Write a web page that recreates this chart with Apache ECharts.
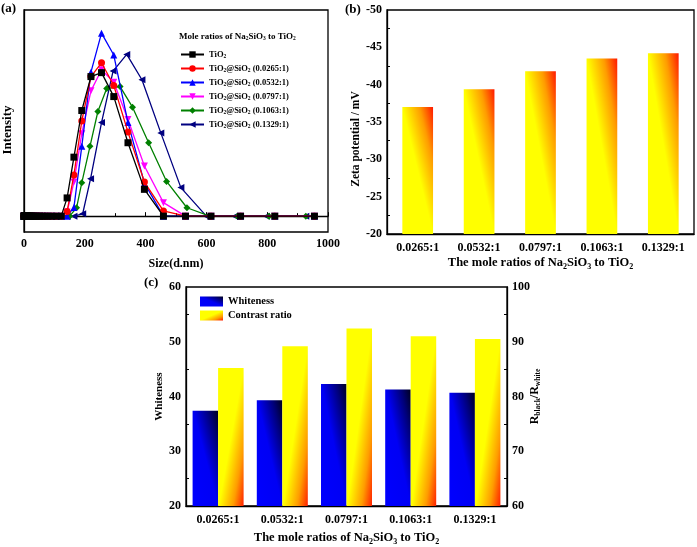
<!DOCTYPE html>
<html><head><meta charset="utf-8">
<script src="https://cdn.jsdelivr.net/npm/echarts@6/dist/echarts.min.js"></script>
<style>html,body{margin:0;padding:0;background:#fff}#c{width:697px;height:547px}</style>
</head><body><div id="c"></div>
<script>
const FONT = '"Liberation Serif","Times New Roman",serif';

// ---------- (a) DLS size distribution ----------
const baseSizes = [0.4,0.5,0.6,0.7,0.8,0.9,1.1,1.3,1.5,1.7,2.0,2.3,2.7,3.1,3.6,4.2,4.8,5.6,6.5,7.5,8.7,10.1,11.7,13.5,15.7,18.2,21.0,24.4,28.2,32.7,37.8,43.8,50.7,58.8,68.1,78.8,91.3,105.7,122.4];
const dlsNames = ['TiO2','TiO2@SiO2 (0.0265:1)','TiO2@SiO2 (0.0532:1)','TiO2@SiO2 (0.0797:1)','TiO2@SiO2 (0.1063:1)','TiO2@SiO2 (0.1329:1)'];
const sizesStd   = [141.8,164.2,190.1,220.2,255,295.3,342,396.1,458.7,531.2,615.1,712.4,825,955.4];
const intTiO2    = [11.5,37.2,66.6,88,90.5,75.4,46.3,16.9,0,0,0,0,0,0];
const int0265    = [3,26,60,88,96.7,82.4,53,21.5,3.3,0,0,0,0,0];
const int0532    = [0,5.5,44,90.8,115.4,101.6,59,20.8,0,0,0,0,0,0];
const int0797    = [2.6,21.5,52,79,92.3,84.5,61,31.6,8.5,0,0,0,0,0];
const sizes1063  = [150,173,190,217,243,272,316,357,410,469,536,611,702,806,927];
const int1063    = [0,5.3,21,44,66,80.5,81.7,68.7,46.3,21.9,5.3,0,0,0,0];
const sizes1329  = [141.8,164.2,193,219,255,293,338,388,450,516,600,693,797,927];
const int1329    = [0,0,1.5,23.6,59,91.5,102,86,52.5,18,0,0,0,0];

// ---------- (b) Zeta potential ----------
const ratioLabels = ['0.0265:1','0.0532:1','0.0797:1','0.1063:1','0.1329:1'];
const zeta = [-37.0,-39.4,-41.8,-43.5,-44.2];

// ---------- (c) Whiteness / contrast ratio ----------
const whiteness = [37.4,39.3,42.3,41.3,40.7];
const contrast  = [85.2,89.2,92.4,91.0,90.5];

const dlsColors  = ['#000000','#ff0000','#0000ff','#ff00ff','#008000','#000080'];
const dlsSymbols = ['rect','circle','triangle','triangle','diamond','triangle'];
const dlsRotate  = [0,0,0,180,0,90];

function pairs(xs, ys){ return xs.map((x,i)=>[x, ys[i]]); }
const zeros = baseSizes.map(()=>0);
const dlsData = [
  pairs(baseSizes.concat(sizesStd), zeros.concat(intTiO2)),
  pairs(baseSizes.concat(sizesStd), zeros.concat(int0265)),
  pairs(baseSizes.concat(sizesStd), zeros.concat(int0532)),
  pairs(baseSizes.concat(sizesStd), zeros.concat(int0797)),
  pairs(baseSizes.concat(sizes1063), zeros.concat(int1063)),
  pairs(baseSizes.concat(sizes1329), zeros.concat(int1329))
];

function richSub(fs){
  return {
    n: {fontFamily: FONT, fontWeight: 'bold', fontSize: fs, lineHeight: Math.round(fs*1.25), color: '#000'},
    s: {fontFamily: FONT, fontWeight: 'bold', fontSize: Math.round(fs*0.62*2)/2, lineHeight: Math.round(fs*0.62), verticalAlign: 'bottom', color: '#000'}
  };
}
const ratioName = '{n|The mole ratios of Na}{s|2}{n|SiO}{s|3}{n| to TiO}{s|2}';

const axisLbl = {fontFamily: FONT, fontWeight: 'bold', fontSize: 12, color: '#000'};
const axLine = {show: true, lineStyle: {color: '#000', width: 1.3}};

// Gradient that behaves like a box-normalised diagonal fill (as in the original figure)
// dir 'up': colour parameter runs from bottom-left to top-right; 'down': top-left to bottom-right
function diagGrad(w, h, dir, stops){
  let p0, g;
  if (dir === 'up') { p0 = [0, h]; g = [1/(2*w), -1/(2*h)]; }
  else { p0 = [0, 0]; g = [1/(2*w), 1/(2*h)]; }
  const g2 = g[0]*g[0] + g[1]*g[1];
  const p1 = [p0[0] + g[0]/g2, p0[1] + g[1]/g2];
  return new echarts.graphic.LinearGradient(p0[0]/w, p0[1]/h, p1[0]/w, p1[1]/h, stops);
}
const yellowRed = [{offset: 0, color: '#ffff00'}, {offset: 0.5, color: '#ffff00'}, {offset: 0.78, color: '#ff9c00'}, {offset: 1, color: '#ff1800'}];
const blueDark  = [{offset: 0, color: '#0000ff'}, {offset: 0.5, color: '#0000f4'}, {offset: 0.8, color: '#000078'}, {offset: 1, color: '#000018'}];

// approximate bar pixel sizes (for shaping the fill only)
const bW = 307/5*0.5, bH = 224/30;
const cW = 25.5, cH = 222/40;

const series = dlsNames.map((nm, i) => ({
  name: nm, type: 'line', xAxisIndex: 0, yAxisIndex: 0,
  data: dlsData[i], symbol: dlsSymbols[i], symbolRotate: dlsRotate[i],
  symbolSize: 7, showAllSymbol: true,
  lineStyle: {color: dlsColors[i], width: 1.3}, itemStyle: {color: dlsColors[i]},
  z: 10 - i, animation: false
}));
series.push({
  name: 'zeta', type: 'bar', xAxisIndex: 1, yAxisIndex: 1,
  data: zeta.map(v => ({value: v, itemStyle: {color: diagGrad(bW, Math.abs(-20 - v)*bH, 'up', yellowRed)}})),
  barWidth: '50%', itemStyle: {color: '#ffcc00'}, clip: true, animation: false
});
series.push({
  name: 'Whiteness', type: 'bar', xAxisIndex: 2, yAxisIndex: 2,
  data: whiteness.map(v => ({value: v, itemStyle: {color: diagGrad(cW, (v-20)*cH, 'up', blueDark)}})),
  barWidth: 25.5, barGap: '0%', itemStyle: {color: diagGrad(23, 10, 'up', blueDark)}, animation: false
});
series.push({
  name: 'Contrast ratio', type: 'bar', xAxisIndex: 2, yAxisIndex: 3,
  data: contrast.map(v => ({value: v, itemStyle: {color: diagGrad(cW, (v-60)*cH, 'down', yellowRed)}})),
  barWidth: 25.5, barGap: '0%', itemStyle: {color: diagGrad(23, 10, 'down', yellowRed)}, animation: false
});

const chart = echarts.init(document.getElementById('c'), null, {renderer: 'canvas'});
chart.setOption({
  backgroundColor: '#fff',
  animation: false,
  title: [
    {text: '(a)', left: 1, top: 2, padding: 0, textStyle: {fontFamily: FONT, fontWeight: 'bold', fontSize: 13, color: '#000'}},
    {text: '(b)', left: 345, top: 3, padding: 0, textStyle: {fontFamily: FONT, fontWeight: 'bold', fontSize: 13, color: '#000'}},
    {text: '(c)', left: 144, top: 276, padding: 0, textStyle: {fontFamily: FONT, fontWeight: 'bold', fontSize: 13, color: '#000'}},
    {text: '{n|Mole ratios of Na}{s|2}{n|SiO}{s|3}{n| to TiO}{s|2}', left: 179, top: 31, padding: 0,
     textStyle: {rich: richSub(9)}}
  ],
  legend: [
    {data: dlsNames, orient: 'vertical', left: 180, top: 49, padding: 0, itemWidth: 23, itemHeight: 8, itemGap: 3,
     formatter: n => n.replace(/O2/g, 'O{s|2}'),
     textStyle: {fontFamily: FONT, fontWeight: 'bold', fontSize: 8.5, lineHeight: 11, color: '#000', rich: richSub(8.5)}},
    {data: ['Whiteness', 'Contrast ratio'], orient: 'vertical', left: 200, top: 296, padding: 0, itemWidth: 23, itemHeight: 10, itemGap: 3,
     icon: 'rect', textStyle: {fontFamily: FONT, fontWeight: 'bold', fontSize: 10.5, color: '#000'}}
  ],
  grid: [
    {left: 24, top: 10, width: 304, height: 222, show: true, borderColor: '#000', borderWidth: 1.3, backgroundColor: 'transparent'},
    {left: 387, top: 10, width: 307, height: 224, show: true, borderColor: '#000', borderWidth: 1.3, backgroundColor: 'transparent'},
    {left: 186, top: 287, width: 321, height: 222, show: true, borderColor: '#000', borderWidth: 1.3, backgroundColor: 'transparent'}
  ],
  xAxis: [
    {type: 'value', gridIndex: 0, min: 0, max: 1000, interval: 200,
     name: 'Size(d.nm)', nameLocation: 'middle', nameGap: 26,
     nameTextStyle: {fontFamily: FONT, fontWeight: 'bold', fontSize: 12, color: '#000'},
     axisLine: axLine, axisTick: {inside: true, length: 4, lineStyle: {color: '#000'}},
     minorTick: {show: true, splitNumber: 2, length: 3, lineStyle: {color: '#000'}},
     axisLabel: Object.assign({margin: 6, formatter: v => String(v)}, axisLbl), splitLine: {show: false}},
    {type: 'category', gridIndex: 1, data: ratioLabels,
     name: ratioName, nameLocation: 'middle', nameGap: 21, nameTextStyle: {rich: richSub(12.5)},
     axisLine: axLine, axisTick: {inside: true, alignWithLabel: true, length: 4, lineStyle: {color: '#000'}},
     axisLabel: Object.assign({margin: 8}, axisLbl)},
    {type: 'category', gridIndex: 2, data: ratioLabels,
     name: ratioName, nameLocation: 'middle', nameGap: 24, nameTextStyle: {rich: richSub(12.5)},
     axisLine: axLine, axisTick: {inside: true, length: 4, lineStyle: {color: '#000'}},
     axisLabel: Object.assign({margin: 8}, axisLbl)}
  ],
  yAxis: [
    {type: 'value', gridIndex: 0, min: -10, max: 130,
     name: 'Intensity', nameLocation: 'middle', nameGap: 10,
     nameTextStyle: {fontFamily: FONT, fontWeight: 'bold', fontSize: 13, color: '#000', padding: [0,0,0,-18]},
     axisLine: axLine, axisTick: {show: false}, axisLabel: {show: false}, splitLine: {show: false}},
    {type: 'value', gridIndex: 1, min: -50, max: -20, interval: 5, inverse: true,
     name: 'Zeta potential / mV', nameLocation: 'middle', nameGap: 25,
     nameTextStyle: {fontFamily: FONT, fontWeight: 'bold', fontSize: 11.5, color: '#000', padding: [0,34,0,0]},
     axisLine: axLine, axisTick: {inside: true, length: 4, lineStyle: {color: '#000'}},
     minorTick: {show: true, splitNumber: 2, length: 3, lineStyle: {color: '#000'}},
     axisLabel: Object.assign({margin: 5}, axisLbl), splitLine: {show: false}},
    {type: 'value', gridIndex: 2, min: 20, max: 60, interval: 10, position: 'left',
     name: 'Whiteness', nameLocation: 'middle', nameGap: 21,
     nameTextStyle: {fontFamily: FONT, fontWeight: 'bold', fontSize: 11, color: '#000'},
     axisLine: axLine, axisTick: {inside: true, length: 4, lineStyle: {color: '#000'}},
     minorTick: {show: true, splitNumber: 2, length: 3, lineStyle: {color: '#000'}},
     axisLabel: Object.assign({margin: 5}, axisLbl), splitLine: {show: false}},
    {type: 'value', gridIndex: 2, min: 60, max: 100, interval: 10, position: 'right',
     name: '{n|R}{s|black}{n|/R}{s|white}', nameLocation: 'middle', nameGap: 20, nameMoveOverlap: false,
     nameTextStyle: {rich: richSub(12)},
     axisLine: axLine, axisTick: {inside: true, length: 4, lineStyle: {color: '#000'}},
     minorTick: {show: true, splitNumber: 2, length: 3, lineStyle: {color: '#000'}},
     axisLabel: Object.assign({margin: 5}, axisLbl), splitLine: {show: false}}
  ],
  series: series
});
</script></body></html>
